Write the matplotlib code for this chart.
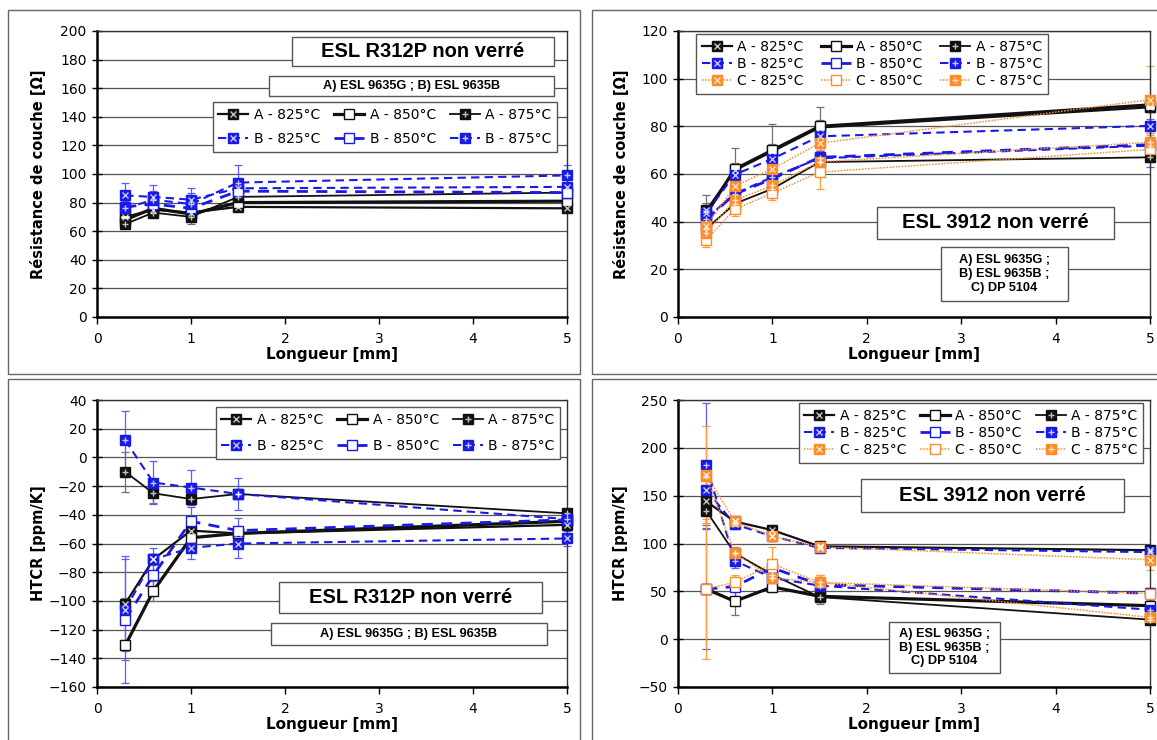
import matplotlib
matplotlib.use('Agg')
import matplotlib.pyplot as plt
from matplotlib.patches import Rectangle

W, H = 1157, 740

# ---------------- data ----------------
x_mm = [0.3, 0.6, 1.0, 1.5, 5.0]
temps = [825, 850, 875]

# Panel 1 : ESL R312P, sheet resistance [Ohm]
r312_res = {
    ('A', 825): [70, 75, 73, 77, 76],
    ('A', 850): [68, 76, 72, 80, 81],
    ('A', 875): [65, 73, 70, 84, 87],
    ('B', 825): [85, 84, 82, 90, 91],
    ('B', 850): [77, 79, 76, 88, 87],
    ('B', 875): [76, 82, 79, 94, 99],
}
r312_res_err = {
    ('A', 825): [4, 3, 4, 3, 2],
    ('A', 850): [3, 3, 3, 2, 2],
    ('A', 875): [3, 3, 5, 3, 2],
    ('B', 825): [9, 8, 8, 6, 6],
    ('B', 850): [5, 5, 5, 5, 4],
    ('B', 875): [5, 6, 8, 12, 7],
}

# Panel 2 : ESL 3912, sheet resistance [Ohm]
e3912_res = {
    ('A', 825): [44.7, 61.5, 69.5, 79.5, 88],
    ('A', 850): [43.3, 62, 70, 80, 89],
    ('A', 875): [37, 47.5, 53.8, 65, 67],
    ('B', 825): [43.8, 59.7, 66.4, 75.8, 80.2],
    ('B', 850): [41, 51.5, 58, 67, 72.3],
    ('B', 875): [41.3, 51.7, 58.7, 66.6, 71.9],
    ('C', 825): [38, 54.9, 62.2, 72.9, 91.2],
    ('C', 850): [32.2, 45.2, 52, 60.8, 70.3],
    ('C', 875): [35.4, 48.9, 55.2, 65.1, 73.3],
}
e3912_res_err = {
    ('A', 825): [3, 3, 3, 3, 2],
    ('A', 850): [8, 9, 11, 8, 3],
    ('A', 875): [2, 2, 2, 3, 2],
    ('B', 825): [3, 3, 3, 3, 3],
    ('B', 850): [3, 3, 3, 3, 3],
    ('B', 875): [3, 3, 3, 3, 9],
    ('C', 825): [3, 3, 3, 3, 14],
    ('C', 850): [3, 3, 3, 7, 5],
    ('C', 875): [3, 3, 3, 3, 3],
}

# Panel 3 : ESL R312P, HTCR [ppm/K]
r312_htcr = {
    ('A', 825): [-102, -71, -51, -53, -47],
    ('A', 850): [-131, -93, -56, -53, -44.5],
    ('A', 875): [-10, -25, -29, -25.5, -39],
    ('B', 825): [-106, -71, -63, -60, -56.5],
    ('B', 850): [-113, -82, -44.5, -51, -43.5],
    ('B', 875): [12, -17.5, -21, -25.5, -43],
}
r312_htcr_err = {
    ('A', 825): [4, 4, 4, 3, 3],
    ('A', 850): [4, 7, 4, 3, 3],
    ('A', 875): [14, 7, 4, 3, 3],
    ('B', 825): [35, 8, 8, 10, 5],
    ('B', 850): [44, 8, 10, 9, 4],
    ('B', 875): [20, 15, 12, 11, 4],
}

# Panel 4 : ESL 3912, HTCR [ppm/K]
e3912_htcr = {
    ('A', 825): [144, 123, 114, 97, 93],
    ('A', 850): [52.4, 39.6, 54.6, 44.8, 35],
    ('A', 875): [134, 90, 67.4, 44, 20.4],
    ('B', 825): [156, 120, 107.6, 95.4, 91],
    ('B', 850): [52.4, 55, 74.5, 57, 48],
    ('B', 875): [181.6, 82, 64, 56, 30.8],
    ('C', 825): [172, 123, 107.6, 96.4, 83],
    ('C', 850): [52.4, 59.4, 78.6, 59.4, 47.6],
    ('C', 875): [171, 90, 64, 59.4, 22.8],
}
e3912_htcr_err = {
    ('A', 825): [10, 4, 5, 4, 4],
    ('A', 850): [5, 14, 5, 6, 4],
    ('A', 875): [15, 5, 5, 7, 4],
    ('B', 825): [10, 5, 5, 5, 5],
    ('B', 850): [63, 10, 8, 6, 6],
    ('B', 875): [65, 8, 5, 5, 10],
    ('C', 825): [51, 5, 5, 5, 11],
    ('C', 850): [73, 8, 18, 8, 6],
    ('C', 875): [10, 6, 12, 8, 5],
}

# ---------------- style ----------------
fam_style = {
    'A': dict(color='#111111', ecolor='#707070'),
    'B': dict(color='#1a1ae6', ecolor='#5c5cff'),
    'C': dict(color='#ff8c26', ecolor='#ff9a40'),
}
line_ls = {
    ('A', 825): '-', ('A', 850): '-', ('A', 875): '-',
    ('B', 825): (0, (4, 2.5)), ('B', 850): (0, (4, 3)), ('B', 875): (0, (4, 2.5)),
    ('C', 825): (0, (1, 1)), ('C', 850): (0, (1, 1)), ('C', 875): (0, (1, 1)),
}
line_lw = {
    ('A', 825): 1.6, ('A', 850): 2.3, ('A', 875): 1.3,
    ('B', 825): 1.5, ('B', 850): 2.0, ('B', 875): 1.5,
    ('C', 825): 1.1, ('C', 850): 1.1, ('C', 875): 1.1,
}

plt.rcParams['font.family'] = ['DejaVu Sans']

fig = plt.figure(figsize=(W / 100, H / 100), dpi=100)


def fx(px):
    return px / W


def fy(py):
    return 1 - py / H


def make_ax(x0, x1, ytop, ybot, xlim, ylim, yticks):
    ax = fig.add_axes([fx(x0), fy(ybot), (x1 - x0) / W, (ybot - ytop) / H])
    ax.set_xlim(*xlim)
    ax.set_ylim(*ylim)
    ax.set_xticks(range(0, 6))
    ax.set_yticks(yticks)
    ax.yaxis.grid(True, color='#555555', lw=0.9)
    ax.set_axisbelow(True)
    for s in ('left', 'bottom'):
        ax.spines[s].set_color('black')
        ax.spines[s].set_linewidth(1.8)
    for s in ('top', 'right'):
        ax.spines[s].set_color('#333333')
        ax.spines[s].set_linewidth(1.0)
    ax.tick_params(axis='y', direction='inout', length=7, width=1, pad=4,
                   labelsize=10)
    ax.tick_params(axis='x', direction='out', length=5, width=1, pad=6,
                   labelsize=10)
    return ax


def draw(ax, data, errs):
    handles = {}
    for key, y in data.items():
        fam, t = key
        st = fam_style[fam]
        c = st['color']
        ax.errorbar(x_mm, y, yerr=errs[key], fmt='none', ecolor=st['ecolor'],
                    elinewidth=0.9, capsize=3, capthick=0.9, zorder=2,
                    clip_on=False)
        face = 'white' if t == 850 else c
        ln, = ax.plot(x_mm, y, ls=line_ls[key], lw=line_lw[key], color=c,
                      marker='s', ms=6.5, mfc=face, mec=c, mew=1.0, zorder=3,
                      clip_on=False)
        hs = [ln]
        if t != 850:
            m = 'x' if t == 825 else '+'
            ov, = ax.plot(x_mm, y, ls='none', marker=m, ms=5, mec='white',
                          mew=1.0, alpha=0.75, zorder=4, clip_on=False)
            hs.append(ov)
        handles[key] = tuple(hs)
    return handles


def add_legend(ax, handles, fams, cx, cy, lspace, cspace):
    hs, ls = [], []
    for t in temps:
        for f in fams:
            hs.append(handles[(f, t)])
            ls.append(f"{f} - {t}°C")
    leg = ax.legend(hs, ls, ncol=3, loc='center',
                    bbox_to_anchor=(fx(cx), fy(cy)),
                    bbox_transform=fig.transFigure,
                    frameon=True, fancybox=False, framealpha=1,
                    edgecolor='#555555', handlelength=2.15, handletextpad=0.4,
                    columnspacing=cspace, borderpad=0.4,
                    labelspacing=lspace,
                    prop={'family': 'DejaVu Sans', 'size': 10})
    leg.get_frame().set_linewidth(1.0)
    leg.set_zorder(10)
    return leg


def text_box(x0, y0, x1, y1, text, size, lines_gap=1.2):
    fig.add_artist(Rectangle((fx(x0), fy(y1)), (x1 - x0) / W, (y1 - y0) / H,
                             transform=fig.transFigure, fc='white',
                             ec='#555555', lw=1.0, zorder=5))
    fig.text(fx((x0 + x1) / 2), fy((y0 + y1) / 2), text, ha='center',
             va='center', fontsize=size, fontweight='bold',
             family='Liberation Sans', zorder=6, linespacing=lines_gap)


# panel frames
for (x0, y0, x1, y1) in [(8, 10, 580, 374), (592, 10, 1162, 374),
                         (8, 379, 580, 745), (592, 379, 1162, 745)]:
    fig.add_artist(Rectangle((fx(x0), fy(y1)), (x1 - x0) / W, (y1 - y0) / H,
                             transform=fig.transFigure, fill=False,
                             ec='#666666', lw=1.0, zorder=0.5))

# ---- Panel 1
ax1 = make_ax(97, 567, 31, 317, (0, 5), (0, 200), range(0, 201, 20))
h1 = draw(ax1, r312_res, r312_res_err)
add_legend(ax1, h1, ['A', 'B'], 385, 127, 0.75, 1.0)
text_box(292, 37, 554, 66, 'ESL R312P non verré', 14.5)
text_box(269, 76, 554, 96, 'A) ESL 9635G ; B) ESL 9635B', 9.2)

# ---- Panel 2
ax2 = make_ax(678, 1150, 31, 317, (0, 5), (0, 120), range(0, 121, 20))
h2 = draw(ax2, e3912_res, e3912_res_err)
add_legend(ax2, h2, ['A', 'B', 'C'], 872, 64, 0.22, 1.25)
text_box(877, 207, 1114, 239, 'ESL 3912 non verré', 14.5)
text_box(941, 247, 1068, 301, 'A) ESL 9635G ;\nB) ESL 9635B ;\nC) DP 5104', 9.2)

# ---- Panel 3
ax3 = make_ax(97, 567, 400, 687, (0, 5), (-160, 40), range(-160, 41, 20))
h3 = draw(ax3, r312_htcr, r312_htcr_err)
add_legend(ax3, h3, ['A', 'B'], 388, 433, 0.9, 1.0)
text_box(279, 582, 542, 613, 'ESL R312P non verré', 14.5)
text_box(271, 623, 547, 645, 'A) ESL 9635G ; B) ESL 9635B', 9.2)

# ---- Panel 4
ax4 = make_ax(678, 1150, 400, 687, (0, 5), (-50, 250), range(-50, 251, 50))
h4 = draw(ax4, e3912_htcr, e3912_htcr_err)
add_legend(ax4, h4, ['A', 'B', 'C'], 971, 433, 0.22, 1.0)
text_box(861, 479, 1124, 512, 'ESL 3912 non verré', 14.5)
text_box(889, 622, 1000, 673, 'A) ESL 9635G ;\nB) ESL 9635B ;\nC) DP 5104', 9.2)

# axis labels
for cx, cy in [(332, 355), (914, 355), (332, 724), (914, 724)]:
    fig.text(fx(cx), fy(cy), 'Longueur [mm]', ha='center', va='center',
             fontsize=11, fontweight='bold')
fig.text(fx(38), fy(174), 'Résistance de couche [Ω]', rotation=90,
         ha='center', va='center', fontsize=10.5, fontweight='bold')
fig.text(fx(621), fy(174), 'Résistance de couche [Ω]', rotation=90,
         ha='center', va='center', fontsize=10.5, fontweight='bold')
fig.text(fx(38), fy(543), 'HTCR [ppm/K]', rotation=90,
         ha='center', va='center', fontsize=10.5, fontweight='bold')
fig.text(fx(621), fy(543), 'HTCR [ppm/K]', rotation=90,
         ha='center', va='center', fontsize=10.5, fontweight='bold')

fig.savefig('out.png', dpi=100)
